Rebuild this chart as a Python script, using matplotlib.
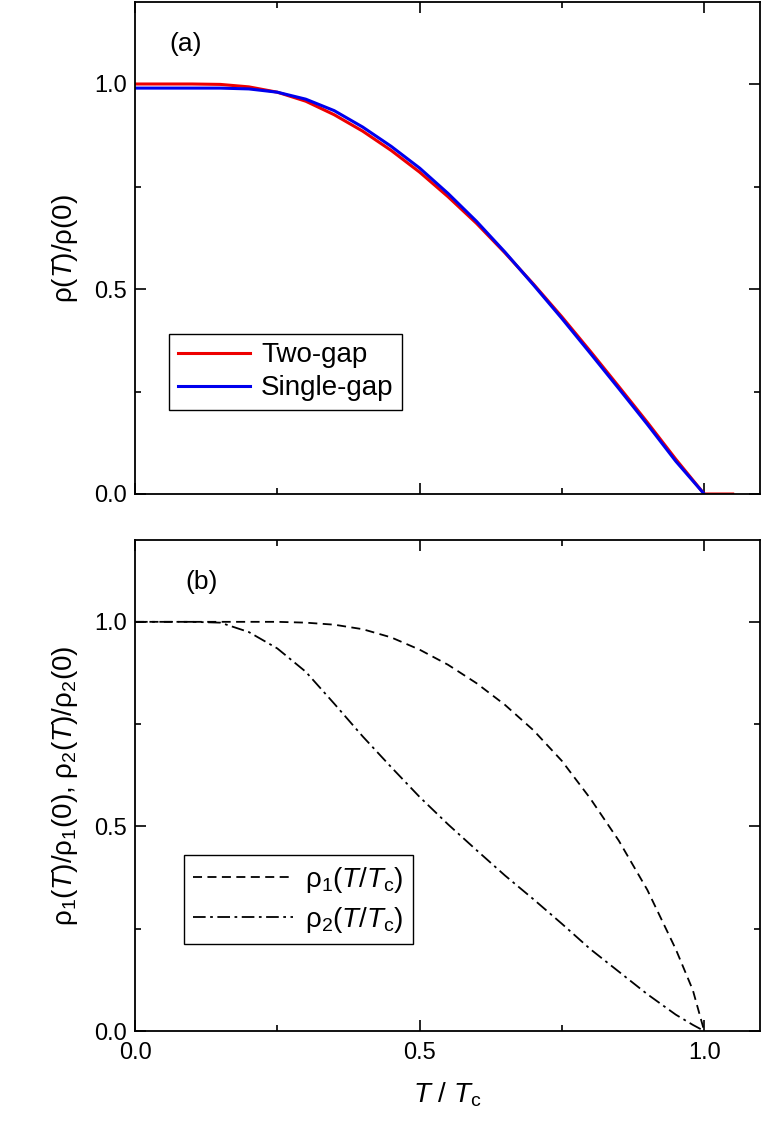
import matplotlib
matplotlib.use("Agg")
import matplotlib.pyplot as plt
from matplotlib.ticker import MultipleLocator

plt.rcParams["font.family"] = "Liberation Sans"
plt.rcParams["mathtext.fontset"] = "custom"
plt.rcParams["mathtext.it"] = "Liberation Sans:italic"
plt.rcParams["mathtext.rm"] = "Liberation Sans"

t_two = [0.0, 0.1, 0.15, 0.2, 0.25, 0.3, 0.35, 0.4, 0.45, 0.5, 0.55, 0.6, 0.65, 0.7, 0.75, 0.8, 0.85, 0.9, 0.95, 1.0, 1.05]
rho_two = [1.0, 1.0, 0.999, 0.993, 0.98, 0.958, 0.925, 0.885, 0.838, 0.785, 0.725, 0.66, 0.588, 0.512, 0.432, 0.348, 0.262, 0.175, 0.085, 0.0, 0.0]
t_single = [0.0, 0.1, 0.15, 0.2, 0.25, 0.3, 0.35, 0.4, 0.45, 0.5, 0.55, 0.6, 0.65, 0.7, 0.75, 0.8, 0.85, 0.9, 0.95, 1.0]
rho_single = [0.99, 0.99, 0.99, 0.988, 0.98, 0.963, 0.935, 0.895, 0.848, 0.795, 0.733, 0.665, 0.59, 0.51, 0.428, 0.343, 0.257, 0.17, 0.08, 0.0]

t_b = [0.0, 0.1, 0.15, 0.2, 0.25, 0.3, 0.35, 0.4, 0.45, 0.5, 0.55, 0.6, 0.65, 0.7, 0.75, 0.8, 0.85, 0.9, 0.95, 0.98, 1.0]
rho1 = [1.0, 1.0, 1.0, 1.0, 1.0, 0.998, 0.993, 0.982, 0.962, 0.932, 0.895, 0.85, 0.797, 0.735, 0.66, 0.568, 0.465, 0.345, 0.2, 0.1, 0.0]
rho2 = [1.0, 1.0, 0.998, 0.975, 0.935, 0.878, 0.8, 0.72, 0.645, 0.572, 0.505, 0.442, 0.38, 0.322, 0.262, 0.2, 0.145, 0.09, 0.04, 0.015, 0.0]

fig = plt.figure(figsize=(7.64, 11.38), dpi=100)
W, H = 764, 1138
axa = fig.add_axes([135/W, 1-494/H, 625/W, 492/H])
axb = fig.add_axes([135/W, 1-1031/H, 625/W, 491/H])

axa.plot(t_two, rho_two, color="#ee0000", lw=2.2, label="Two-gap")
axa.plot(t_single, rho_single, color="#0000ee", lw=2.2, label="Single-gap")
axb.plot(t_b, rho1, color="black", lw=1.3, ls=(0, (5, 3)), label=r"ρ$_1$($T$/$T_\mathrm{c}$)")
axb.plot(t_b, rho2, color="black", lw=1.3, ls=(0, (7, 2.5, 1.5, 2.5)), label=r"ρ$_2$($T$/$T_\mathrm{c}$)")

for ax in (axa, axb):
    ax.set_xlim(0, 1.098)
    ax.set_ylim(0, 1.2)
    ax.xaxis.set_major_locator(MultipleLocator(0.5))
    ax.xaxis.set_minor_locator(MultipleLocator(0.25))
    ax.yaxis.set_major_locator(MultipleLocator(0.5))
    ax.yaxis.set_minor_locator(MultipleLocator(0.25))
    ax.tick_params(which="both", direction="in", top=True, right=True, labelsize=17, width=1.2)
    ax.tick_params(which="major", length=8)
    ax.tick_params(which="minor", length=4)
    ax.tick_params(axis="x", pad=8)
    ax.tick_params(axis="y", pad=6)
    for s in ax.spines.values():
        s.set_linewidth(1.3)

axa.set_xticklabels([])
axa.set_ylabel(r"ρ($T$)/ρ(0)", fontsize=20, labelpad=10)
axb.set_ylabel(r"ρ$_1$($T$)/ρ$_1$(0), ρ$_2$($T$)/ρ$_2$(0)", fontsize=20, labelpad=10)
axb.set_xlabel(r"$T$ / $T_\mathrm{c}$", fontsize=20, labelpad=12)
axa.text(0.055, 0.9, "(a)", transform=axa.transAxes, fontsize=19)
axb.text(0.08, 0.9, "(b)", transform=axb.transAxes, fontsize=19)

axa.legend(loc="upper left", bbox_to_anchor=(0.055, 0.325), fontsize=20, fancybox=False,
           edgecolor="black", framealpha=1, handlelength=2.6, borderpad=0.3, labelspacing=0.25,
           handletextpad=0.4, borderaxespad=0)
axb.legend(loc="upper left", bbox_to_anchor=(0.078, 0.358), fontsize=20, fancybox=False,
           edgecolor="black", framealpha=1, handlelength=3.6, borderpad=0.35, labelspacing=0.35,
           handletextpad=0.4, borderaxespad=0)

fig.savefig("out.png", dpi=100)
